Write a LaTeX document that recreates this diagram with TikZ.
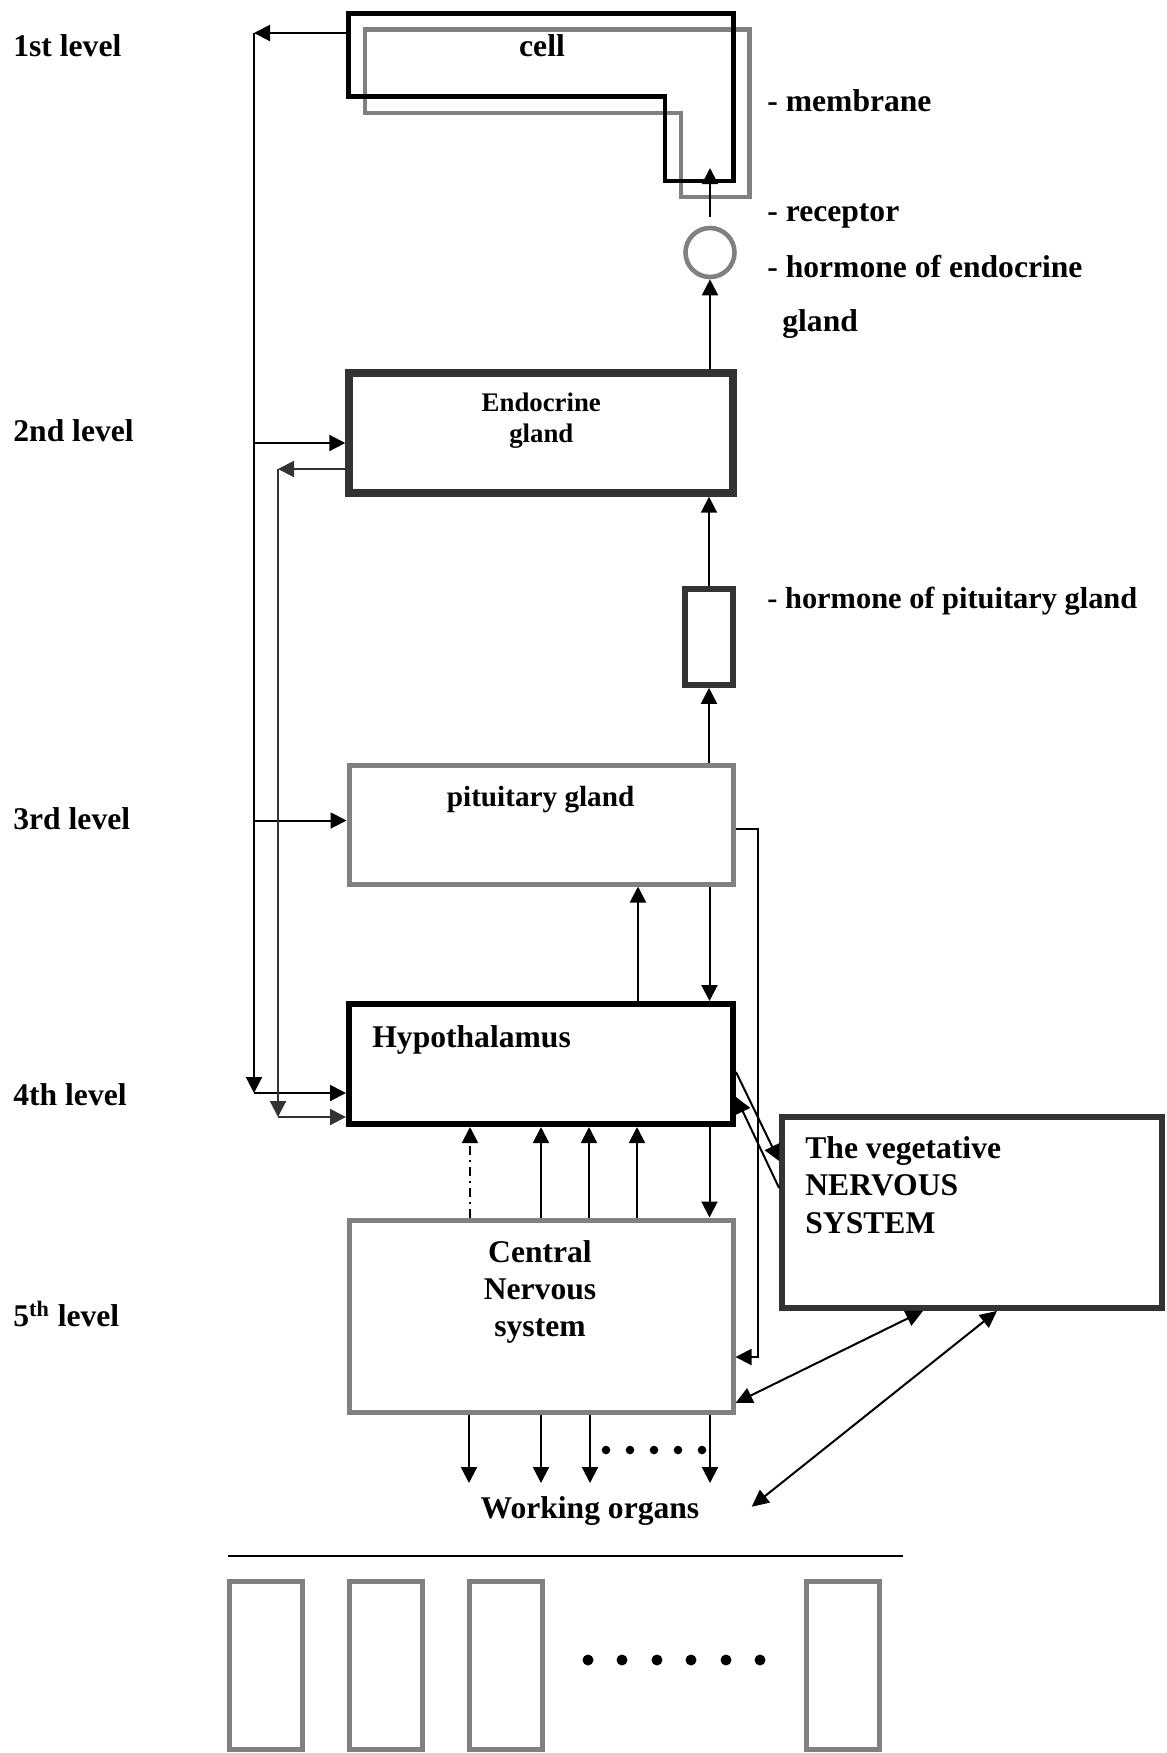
\documentclass[tikz,border=0pt]{standalone}
\usepackage{fontspec}
\setmainfont{Liberation Serif}
\usetikzlibrary{arrows.meta,calc}
\definecolor{dgray}{RGB}{51,51,51}
\definecolor{mgray}{RGB}{128,128,128}
\begin{document}
\begin{tikzpicture}[x=0.5pt,y=-0.5pt,
  arr/.style={-{Triangle[length=8pt,width=8pt]}, line width=1pt},
  darr/.style={{Triangle[length=8.5pt,width=8pt]}-{Triangle[length=8.5pt,width=8pt]}, line width=1pt},
  box/.style={draw, rectangle, inner sep=0pt},
  big/.style={font=\fontsize{15.8}{19}\selectfont\bfseries},
  lbl/.style={inner sep=0pt, anchor=base west, big},
  ctr/.style={inner sep=0pt, anchor=base, big}
]
\useasboundingbox (0,0) rectangle (1167,1753);

% cell (membrane outline)
\draw[line width=2.3pt, mgray] (365,29.3) -- (749.5,29.3) -- (749.5,197) -- (681,197) -- (681,113) -- (365,113) -- cycle;
\draw[line width=2.4pt, black] (348.5,13.3) -- (733.5,13.3) -- (733.5,181) -- (665,181) -- (665,96.7) -- (348.5,96.7) -- cycle;
\node[ctr] (cellT) at (542,56.7) {cell};

% boxes
\node[box, line width=3.7pt, draw=dgray, minimum width=192pt, minimum height=60pt] (endo) at (541,433) {};
\node[box, line width=2.5pt, draw=mgray, minimum width=192pt, minimum height=59.5pt] (pit) at (541,824.5) {};
\node[box, line width=3pt, draw=black, minimum width=192pt, minimum height=60pt] (hypo) at (541,1064) {};
\node[box, line width=2.5pt, draw=mgray, minimum width=192pt, minimum height=96pt] (cns) at (541,1316) {};
\node[box, line width=2.9pt, draw=dgray, minimum width=190pt, minimum height=95.5pt] (veg) at (972,1212.5) {};
\node[box, line width=2.8pt, draw=dgray, minimum width=24pt, minimum height=48pt] (hrm) at (709,637) {};
\node[circle, draw=mgray, line width=2.3pt, minimum size=24.5pt, inner sep=0pt] (circ) at (710,252.5) {};

% box texts
\node[inner sep=0pt, anchor=base, font=\fontsize{13.4}{16}\selectfont\bfseries] (endoT1) at (541.3,411) {Endocrine};
\node[inner sep=0pt, anchor=base, font=\fontsize{13.4}{16}\selectfont\bfseries] (endoT2) at (541.3,442.3) {gland};
\node[inner sep=0pt, anchor=base, font=\fontsize{14.6}{17}\selectfont\bfseries] (pitT) at (540.6,806.7) {pituitary gland};
\node[lbl] (hypoT) at (372,1047.5) {Hypothalamus};
\node[lbl] (vegT1) at (805,1158.3) {The vegetative};
\node[lbl] (vegT2) at (805,1195) {NERVOUS};
\node[lbl] (vegT3) at (805,1233.3) {SYSTEM};
\node[ctr] (cnsT1) at (540,1262) {Central};
\node[ctr] (cnsT2) at (540,1299.6) {Nervous};
\node[ctr] (cnsT3) at (540,1336.8) {system};
\node[ctr] (work) at (590,1518) {Working organs};

% side labels
\node[lbl] (memT) at (767,111.7) {- membrane};
\node[lbl] (recT) at (767,221.7) {- receptor};
\node[lbl] (horT1) at (767,277.3) {- hormone of endocrine};
\node[lbl] (horT2) at (782,331.7) {gland};
\node[inner sep=0pt, anchor=base west, font=\fontsize{15.2}{18}\selectfont\bfseries] (phT) at (767,608.6) {- hormone of pituitary gland};

% level labels
\node[lbl] (l1) at (13,56.7) {1st level};
\node[lbl] (l2) at (13,441.7) {2nd level};
\node[lbl] (l3) at (13,829.7) {3rd level};
\node[lbl] (l4) at (13,1105) {4th level};
\node[lbl] (l5) at (13,1326.5) {5\textsuperscript{th} level};

% left feedback line from cell
\coordinate (cellW) at (346,33);
\coordinate (c1) at (254,33);
\coordinate (c2) at (254,443);
\coordinate (c3) at (254,820.5);
\coordinate (c4) at (254,1093);
\draw[arr] (cellW) -- (c1);
\draw[arr] (c1) -- (c4);
\draw[arr] (c2) -- (c2 -| endo.west);
\draw[arr] (c3) -- (c3 -| pit.west);
\draw[arr] (c4) -- (c4 -| hypo.west);

% second feedback line from endocrine gland
\coordinate (d1) at (278,469);
\coordinate (d2) at (278,1117);
\draw[arr, dgray] (d1 -| endo.west) -- (d1);
\draw[arr, dgray] (d1) -- (d2);
\draw[arr, dgray] (d2) -- (d2 -| hypo.west);

% hormone chain
\coordinate (rS) at (710,217);
\coordinate (rE) at (710,168);
\draw[arr] (rS) -- (rE);
\draw[arr] (endo.north -| circ.south) -- (circ.south);
\draw[arr] (hrm.north) -- (hrm.north |- endo.south);
\draw[arr] (pit.north -| hrm.south) -- (hrm.south);

% pituitary <-> hypothalamus
\draw[arr] ($(hypo.north)+(97,0)$) -- ($(pit.south)+(97,0)$);
\draw[arr] ($(pit.south)+(168.5,0)$) -- ($(hypo.north)+(168.5,0)$);

% CNS <-> hypothalamus
\draw[line width=1pt, dash pattern=on 4.5pt off 2.5pt on 1pt off 2.5pt] ($(cns.north)+(-71,0)$) -- ($(hypo.south)+(-71,13)$);
\draw[arr] ($(hypo.south)+(-71,15)$) -- ($(hypo.south)+(-71,0)$);
\draw[arr] ($(cns.north)+(0,0)$) -- ($(hypo.south)+(0,0)$);
\draw[arr] ($(cns.north)+(48,0)$) -- ($(hypo.south)+(48,0)$);
\draw[arr] ($(cns.north)+(96,0)$) -- ($(hypo.south)+(96,0)$);
\draw[arr] ($(hypo.south)+(168.5,0)$) -- ($(cns.north)+(168.5,0)$);

% pituitary -> CNS side line
\coordinate (p1) at (758,829);
\coordinate (p2) at (758,1357);
\draw[arr] (p1 -| pit.east) -- (p1) -- (p2) -- (p2 -| cns.east);

% hypothalamus <-> vegetative
\draw[arr] ($(hypo.east)+(0,8)$) -- ($(veg.west)+(0,-51.5)$);
\draw[arr] ($(veg.west)+(0,-24.5)$) -- ($(hypo.east)+(0,33)$);

% CNS <-> vegetative, working organs <-> vegetative
\coordinate (wo) at (751.7,1506.7);
\draw[darr] ($(cns.east)+(0,87)$) -- ($(veg.south)+(-49,0)$);
\draw[darr] (wo) -- ($(veg.south)+(25,0)$);

% CNS -> working organs
\coordinate (w1) at (469,1483);
\coordinate (w2) at (541,1483);
\coordinate (w3) at (590,1483);
\coordinate (w4) at (710,1483);
\draw[arr] (cns.south -| w1) -- (w1);
\draw[arr] (cns.south -| w2) -- (w2);
\draw[arr] (cns.south -| w3) -- (w3);
\draw[arr] (cns.south -| w4) -- (w4);
\foreach \x in {606,630,654,678,702} \fill (\x,1450) circle[radius=4.3];

% separator and organs
\draw[line width=1.15pt] (228,1556) -- (903,1556);
\foreach \x in {229,349,469,806} \draw[mgray, line width=2.5pt] (\x,1581) rectangle ++(73,168);
\foreach \x in {588,622,657,691,726,760} \fill (\x,1660) circle[radius=5.5];
\end{tikzpicture}
\end{document}
